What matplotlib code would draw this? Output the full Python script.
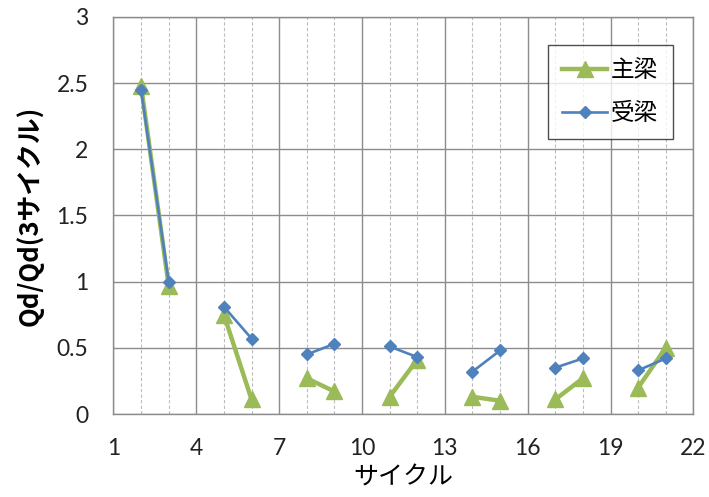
import numpy as np
import matplotlib
matplotlib.use("Agg")
import matplotlib.pyplot as plt
from matplotlib.ticker import MultipleLocator

plt.rcParams['font.family'] = ['Lato', 'Noto Sans CJK JP', 'DejaVu Sans']

cycles = [2, 3, 5, 6, 8, 9, 11, 12, 14, 15, 17, 18, 20, 21]
main_beam = [2.48, 0.97, 0.75, 0.11, 0.27, 0.17, 0.13, 0.41, 0.13, 0.10, 0.11, 0.27, 0.20, 0.50]
recv_beam = [2.45, 1.00, 0.81, 0.57, 0.45, 0.53, 0.51, 0.43, 0.32, 0.48, 0.35, 0.42, 0.33, 0.42]
x_ticks = [1, 4, 7, 10, 13, 16, 19, 22]
y_ticks = [0, 0.5, 1, 1.5, 2, 2.5, 3]
y_tick_labels = ['0', '0.5', '1', '1.5', '2', '2.5', '3']

green = '#9BBB59'
blue = '#4F81BD'
jp = ['Noto Sans CJK JP', 'DejaVu Sans']

fig = plt.figure(figsize=(7.09, 4.97), dpi=100)
ax = fig.add_axes([0.160, 0.167, 0.818, 0.799])

# each test step is a pair of consecutive cycles, drawn as its own segment
for i in range(0, len(cycles), 2):
    xs = cycles[i:i + 2]
    ax.plot(xs, main_beam[i:i + 2], color=green, lw=3.2, marker='^', ms=12,
            label='主梁' if i == 0 else None, zorder=3)
    ax.plot(xs, recv_beam[i:i + 2], color=blue, lw=1.9, marker='D', ms=6.5,
            label='受梁' if i == 0 else None, zorder=4)

ax.set_xlim(1, 22)
ax.set_ylim(0, 3)
ax.set_xticks(x_ticks)
ax.xaxis.set_minor_locator(MultipleLocator(1))
ax.set_yticks(y_ticks)
ax.set_yticklabels(y_tick_labels)

ax.grid(which='major', axis='both', color='#8c8c8c', lw=1.0, zorder=0)
ax.grid(which='minor', axis='x', color='#bdbdbd', lw=0.8, ls=(0, (3, 2)), zorder=0)
ax.set_axisbelow(True)

for s in ax.spines.values():
    s.set_color('#8c8c8c')
    s.set_linewidth(1.0)

ax.tick_params(which='both', length=0, labelsize=16.5, colors='#222222')
ax.tick_params(axis='x', pad=17)
ax.tick_params(axis='y', pad=18)

ax.set_xlabel('サイクル', fontsize=18, labelpad=4, family=jp)
ax.set_ylabel('Qd/Qd(3サイクル)', fontsize=18.5, fontweight='bold', labelpad=9, family=jp)

leg = ax.legend(loc='upper right', bbox_to_anchor=(0.964, 0.93),
                prop={'family': jp, 'size': 17},
                frameon=True, fancybox=False, edgecolor='#222222',
                borderpad=0.6, labelspacing=0.85, handlelength=1.9,
                handletextpad=0.17, borderaxespad=0)
leg.get_frame().set_linewidth(1.0)

fig.savefig('out.png', dpi=100)
